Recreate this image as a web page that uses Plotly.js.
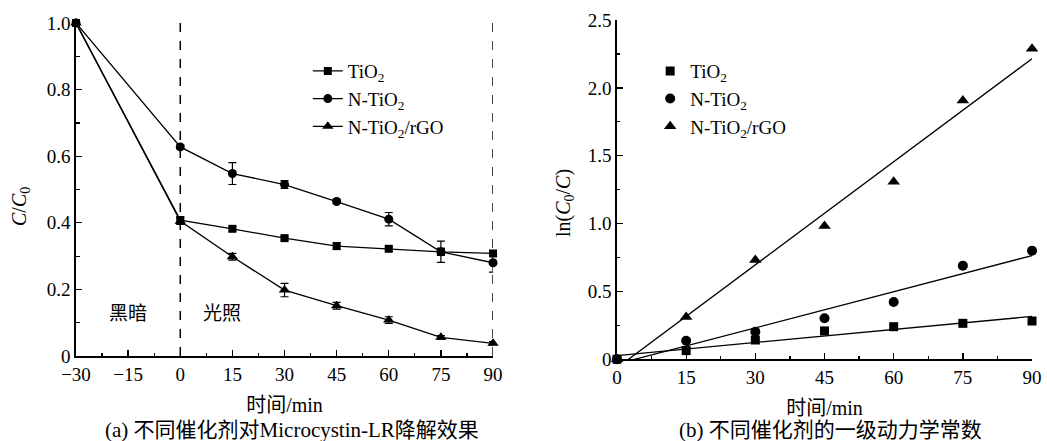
<!DOCTYPE html>
<html>
<head>
<meta charset="utf-8">
<script src="https://cdn.plot.ly/plotly-3.0.1.min.js"></script>
<style>html,body{margin:0;padding:0;background:#fff;}#chart{width:1047px;height:441px;}</style>
</head>
<body>
<div id="chart"></div>
<script>
// ---- Panel (a): C/C0 vs time ----
const timeA = [-30, 0, 15, 30, 45, 60, 75, 90];
const tio2A = [1.0, 0.408, 0.382, 0.354, 0.330, 0.322, 0.313, 0.308];
const tio2AErr = [0, 0.010, 0.006, 0.006, 0.010, 0.006, 0.010, 0.006];
const ntio2A = [1.0, 0.628, 0.548, 0.515, 0.464, 0.411, 0.313, 0.280];
const ntio2AErr = [0, 0.006, 0.033, 0.012, 0.006, 0.020, 0.032, 0.028];
const rgoA = [1.0, 0.405, 0.298, 0.198, 0.151, 0.108, 0.056, 0.038];
const rgoAErr = [0, 0.010, 0.010, 0.020, 0.010, 0.010, 0.005, 0.005];

// ---- Panel (b): ln(C0/C) vs time ----
const timeB = [0, 15, 30, 45, 60, 75, 90];
const tio2B = [0, 0.064, 0.142, 0.209, 0.240, 0.265, 0.282];
const ntio2B = [0, 0.137, 0.203, 0.302, 0.422, 0.690, 0.800];
const rgoB = [0, 0.312, 0.732, 0.982, 1.309, 1.907, 2.288];

const seriesNames = ['TiO<sub>2</sub>', 'N-TiO<sub>2</sub>', 'N-TiO<sub>2</sub>/rGO'];
const tickA_x = [-30, -15, 0, 15, 30, 45, 60, 75, 90];
const tickA_y = [0, 0.2, 0.4, 0.6, 0.8, 1.0];
const tickA_yText = ['0', '0.2', '0.4', '0.6', '0.8', '1.0'];
const tickB_x = [0, 15, 30, 45, 60, 75, 90];
const tickB_y = [0, 0.5, 1.0, 1.5, 2.0, 2.5];
const tickB_yText = ['0', '0.5', '1.0', '1.5', '2.0', '2.5'];

function linfit(xs, ys) {
  const n = xs.length;
  const mx = xs.reduce((a, b) => a + b, 0) / n;
  const my = ys.reduce((a, b) => a + b, 0) / n;
  let sxy = 0, sxx = 0;
  for (let i = 0; i < n; i++) { sxy += (xs[i] - mx) * (ys[i] - my); sxx += (xs[i] - mx) ** 2; }
  const k = sxy / sxx;
  return [k, my - k * mx];
}
function fitLine(xs, ys) {
  const [k, b] = linfit(xs, ys);
  const x0 = Math.min(...xs), x1 = Math.max(...xs);
  return { x: [x0, x1], y: [k * x0 + b, k * x1 + b] };
}

const FONT = 'Liberation Serif, Times New Roman, Noto Sans CJK SC, serif';
const black = '#000';
const symbols = ['square', 'circle', 'triangle-up'];
const msize = [8, 9, 10];

const traces = [];
[[tio2A, tio2AErr], [ntio2A, ntio2AErr], [rgoA, rgoAErr]].forEach((s, i) => {
  traces.push({
    x: timeA, y: s[0], type: 'scatter', mode: 'lines+markers', name: seriesNames[i],
    xaxis: 'x', yaxis: 'y', legend: 'legend', cliponaxis: false,
    line: { color: black, width: 1.3 },
    marker: { symbol: symbols[i], size: msize[i], color: black },
    error_y: { type: 'data', array: s[1], visible: true, color: black, thickness: 1.2, width: 4 }
  });
});
[tio2B, ntio2B, rgoB].forEach((ys, i) => {
  traces.push({
    x: timeB, y: ys, type: 'scatter', mode: 'markers', name: seriesNames[i],
    xaxis: 'x2', yaxis: 'y2', legend: 'legend2', cliponaxis: false,
    marker: { symbol: symbols[i], size: msize[i] + 1, color: black }
  });
});
[tio2B, ntio2B, rgoB].forEach((ys, i) => {
  const f = fitLine(timeB, ys);
  traces.push({
    x: f.x, y: f.y, type: 'scatter', mode: 'lines', showlegend: false,
    xaxis: 'x2', yaxis: 'y2', line: { color: black, width: 1.3 }, hoverinfo: 'skip'
  });
});

const axisCommon = {
  showline: true, linecolor: black, linewidth: 1.8, mirror: false,
  ticks: 'inside', ticklen: 6, tickwidth: 1.3, tickcolor: black,
  showgrid: false, zeroline: false,
  tickfont: { family: FONT, size: 19, color: black },
  fixedrange: true
};
const xTitle = { text: '时间/min', font: { family: FONT, size: 20, color: black }, standoff: 14 };

const layout = {
  width: 1047, height: 441,
  margin: { l: 0, r: 0, t: 0, b: 0 },
  paper_bgcolor: '#fff', plot_bgcolor: '#fff',
  font: { family: FONT, size: 18, color: black },
  showlegend: true,
  xaxis: Object.assign({}, axisCommon, {
    domain: [0.0726, 0.4709], range: [-30, 90], anchor: 'y',
    tickmode: 'array', tickvals: tickA_x,
    minor: { dtick: 7.5, tick0: -30, ticks: 'inside', ticklen: 3.5, tickwidth: 1.2, tickcolor: black },
    title: xTitle
  }),
  yaxis: Object.assign({}, axisCommon, {
    domain: [0.1927, 0.9478], range: [0, 1.0], anchor: 'x',
    tickmode: 'array', tickvals: tickA_y, ticktext: tickA_yText,
    minor: { dtick: 0.1, tick0: 0, ticks: 'inside', ticklen: 3.5, tickwidth: 1.2, tickcolor: black }
  }),
  xaxis2: Object.assign({}, axisCommon, {
    domain: [0.5893, 0.9857], range: [0, 90], anchor: 'y2',
    tickmode: 'array', tickvals: tickB_x,
    minor: { dtick: 7.5, tick0: 0, ticks: 'inside', ticklen: 3.5, tickwidth: 1.2, tickcolor: black },
    title: xTitle
  }),
  yaxis2: Object.assign({}, axisCommon, {
    domain: [0.1853, 0.9546], range: [0, 2.5], anchor: 'x2',
    tickmode: 'array', tickvals: tickB_y, ticktext: tickB_yText,
    minor: { dtick: 0.25, tick0: 0, ticks: 'inside', ticklen: 3.5, tickwidth: 1.2, tickcolor: black }
  }),
  legend: {
    x: 0.294, y: 0.882, xanchor: 'left', yanchor: 'top',
    bgcolor: 'rgba(0,0,0,0)', borderwidth: 0, tracegroupgap: 0,
    font: { family: FONT, size: 19, color: black }, itemwidth: 30
  },
  legend2: {
    x: 0.621, y: 0.882, xanchor: 'left', yanchor: 'top',
    bgcolor: 'rgba(0,0,0,0)', borderwidth: 0, tracegroupgap: 0,
    font: { family: FONT, size: 19, color: black }, itemwidth: 30
  },
  shapes: [
    { type: 'line', xref: 'x', yref: 'y', x0: 0, x1: 0, y0: 0, y1: 1.0, line: { color: black, width: 1.5, dash: 'dash' } },
    { type: 'line', xref: 'x', yref: 'y', x0: 90, x1: 90, y0: 0, y1: 1.0, line: { color: black, width: 1.5, dash: 'dash' } }
  ],
  annotations: [
    { xref: 'paper', yref: 'paper', x: 20 / 1047, y: 1 - 207 / 441, xanchor: 'center', yanchor: 'middle', textangle: -90,
      text: '<i>C</i>/<i>C</i><sub>0</sub>', showarrow: false, font: { family: FONT, size: 20, color: black } },
    { xref: 'paper', yref: 'paper', x: 565 / 1047, y: 1 - 203 / 441, xanchor: 'center', yanchor: 'middle', textangle: -90,
      text: 'ln(<i>C</i><sub>0</sub>/<i>C</i>)', showarrow: false, font: { family: FONT, size: 20, color: black } },
    { xref: 'x', yref: 'y', x: -15, y: 0.129, text: '黑暗', showarrow: false, font: { family: FONT, size: 19, color: black } },
    { xref: 'x', yref: 'y', x: 12.1, y: 0.129, text: '光照', showarrow: false, font: { family: FONT, size: 19, color: black } },
    { xref: 'paper', yref: 'paper', x: 0.279, y: 0.025, xanchor: 'center', yanchor: 'middle', text: '(a) 不同催化剂对Microcystin-LR降解效果', showarrow: false, font: { family: FONT, size: 21, color: black } },
    { xref: 'paper', yref: 'paper', x: 0.793, y: 0.025, xanchor: 'center', yanchor: 'middle', text: '(b) 不同催化剂的一级动力学常数', showarrow: false, font: { family: FONT, size: 21, color: black } }
  ]
};

Plotly.newPlot('chart', traces, layout, { displayModeBar: false, staticPlot: true });
</script>
</body>
</html>
